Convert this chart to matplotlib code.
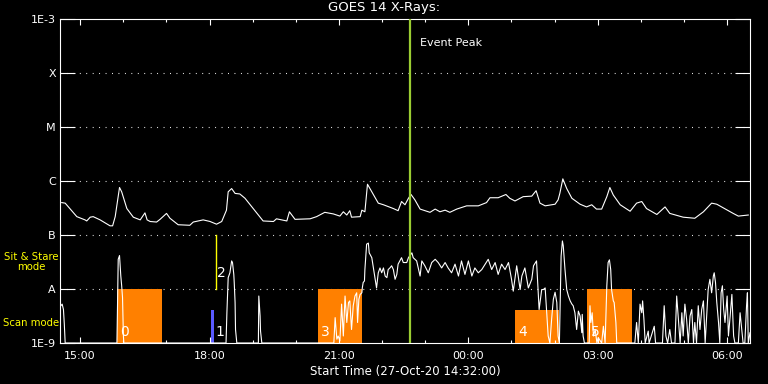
import numpy as np
import matplotlib
matplotlib.use("Agg")
import matplotlib.pyplot as plt
from matplotlib.ticker import FixedLocator, NullLocator

# time in hours after start (27-Oct-20 14:32), flux as log10(W/m^2)
goes_t = [0.04, 0.12, 0.39, 0.58, 0.62, 0.70, 0.77, 0.93, 1.16, 1.22, 1.28, 1.38, 1.43,
          1.55, 1.70, 1.86, 1.97, 2.02, 2.09, 2.24, 2.32, 2.47, 2.55, 2.74, 3.01, 3.09,
          3.32, 3.48, 3.63, 3.75, 3.86, 3.90, 3.98, 4.06, 4.17, 4.29, 4.41, 4.71, 4.95,
          5.02, 5.26, 5.32, 5.45, 5.80, 5.95, 6.14, 6.34, 6.49, 6.57, 6.65, 6.72, 6.76,
          6.96, 7.00, 7.07, 7.13, 7.23, 7.38, 7.50, 7.73, 7.84, 7.92, 8.00, 8.08, 8.14,
          8.23, 8.35, 8.58, 8.70, 8.81, 8.93, 9.04, 9.20, 9.43, 9.70, 9.89, 9.97, 10.16,
          10.34, 10.43, 10.55, 10.74, 10.94, 11.04, 11.13, 11.25, 11.48, 11.55, 11.59,
          11.66, 11.75, 11.87, 12.06, 12.21, 12.33, 12.44, 12.56, 12.68, 12.75, 12.83,
          12.99, 13.22, 13.37, 13.49, 13.60, 13.84, 14.03, 14.14, 14.45, 14.72, 14.92,
          15.11, 15.23, 15.61, 15.73, 15.96]
goes_lg = [-6.40, -6.41, -6.66, -6.72, -6.74, -6.67, -6.66, -6.72, -6.83, -6.83, -6.66,
           -6.12, -6.20, -6.51, -6.67, -6.72, -6.59, -6.72, -6.75, -6.76, -6.71, -6.60,
           -6.69, -6.81, -6.82, -6.76, -6.72, -6.75, -6.80, -6.75, -6.54, -6.20, -6.14,
           -6.23, -6.24, -6.32, -6.44, -6.74, -6.75, -6.70, -6.74, -6.57, -6.71, -6.70,
           -6.66, -6.58, -6.61, -6.65, -6.57, -6.63, -6.55, -6.67, -6.66, -6.54, -6.57,
           -6.06, -6.20, -6.41, -6.44, -6.51, -6.55, -6.38, -6.44, -6.32, -6.25, -6.35,
           -6.52, -6.58, -6.52, -6.57, -6.54, -6.58, -6.52, -6.46, -6.46, -6.40, -6.31,
           -6.31, -6.25, -6.32, -6.37, -6.29, -6.28, -6.18, -6.41, -6.46, -6.43, -6.35,
           -6.23, -5.96, -6.14, -6.32, -6.43, -6.48, -6.44, -6.52, -6.52, -6.29, -6.12,
           -6.26, -6.44, -6.56, -6.41, -6.38, -6.51, -6.62, -6.48, -6.60, -6.67, -6.69,
           -6.57, -6.41, -6.43, -6.60, -6.65, -6.63]

obs_t = [0.02, 0.05, 0.08, 0.10, 0.12, 1.32, 1.33, 1.35, 1.38, 1.39, 1.41, 1.43, 1.45,
         1.47, 1.48, 3.85, 3.87, 3.90, 3.94, 3.98, 4.00, 4.03, 4.04, 4.06, 4.07, 4.10,
         4.60, 4.61, 4.64, 4.65, 4.68, 6.35, 6.38, 6.42, 6.45, 6.49, 6.53, 6.57, 6.61,
         6.65, 6.69, 6.72, 6.76, 6.80, 6.84, 6.88, 6.90, 6.93, 6.96, 7.00, 7.01, 7.03,
         7.06, 7.07, 7.11, 7.15, 7.17, 7.23, 7.26, 7.30, 7.34, 7.38, 7.42, 7.46, 7.50,
         7.54, 7.58, 7.61, 7.65, 7.69, 7.73, 7.77, 7.81, 7.84, 7.88, 7.92, 7.96, 8.04,
         8.08, 8.16, 8.19, 8.27, 8.35, 8.39, 8.46, 8.54, 8.62, 8.70, 8.77, 8.85, 8.93,
         9.00, 9.08, 9.16, 9.24, 9.31, 9.39, 9.47, 9.55, 9.62, 9.70, 9.78, 9.86, 9.93,
         10.01, 10.09, 10.16, 10.24, 10.32, 10.40, 10.47, 10.51, 10.59, 10.67, 10.71,
         10.78, 10.86, 10.94, 10.98, 11.05, 11.08, 11.11, 11.17, 11.21, 11.25, 11.29,
         11.32, 11.36, 11.40, 11.44, 11.48, 11.52, 11.55, 11.58, 11.62, 11.65, 11.67,
         11.71, 11.75, 11.79, 11.83, 11.87, 11.90, 11.94, 11.98, 12.02, 12.06, 12.10,
         12.11, 12.13, 12.16, 12.27, 12.29, 12.31, 12.34, 12.37, 12.41, 12.45, 12.48,
         12.56, 12.60, 12.64, 12.68, 12.71, 12.74, 12.77, 12.79, 12.83, 12.85, 12.89,
         12.91, 13.33, 13.37, 13.41, 13.45, 13.49, 13.51, 13.54, 13.57, 13.64, 13.66,
         13.78, 13.81, 13.97, 14.01, 14.05, 14.09, 14.14, 14.18, 14.26, 14.30, 14.34,
         14.38, 14.42, 14.45, 14.49, 14.53, 14.57, 14.61, 14.65, 14.69, 14.72, 14.76,
         14.80, 14.84, 14.88, 14.92, 14.96, 15.00, 15.03, 15.07, 15.11, 15.15, 15.17,
         15.20, 15.23, 15.27, 15.30, 15.33, 15.36, 15.39, 15.42, 15.47, 15.50, 15.54,
         15.58, 15.62, 15.65, 15.73, 15.77, 15.81, 15.84, 15.88, 15.92, 15.94, 15.96,
         16.00]
obs_lg = [-8.31, -8.28, -8.38, -8.65, -9.00, -9.00, -8.46, -7.45, -7.38, -7.51, -7.76,
          -7.94, -8.16, -8.87, -9.00, -9.00, -8.44, -7.79, -7.70, -7.48, -7.51, -7.73,
          -7.88, -8.25, -8.75, -9.00, -9.00, -8.13, -8.50, -8.78, -9.00, -9.00, -8.53,
          -8.93, -8.87, -8.96, -8.28, -8.87, -8.13, -8.62, -8.25, -8.22, -8.75, -8.31,
          -8.13, -8.07, -8.62, -8.19, -8.10, -8.07, -7.98, -7.88, -7.85, -7.64, -7.17,
          -7.15, -7.33, -7.42, -7.57, -7.76, -7.98, -7.70, -7.61, -7.70, -7.61, -7.76,
          -7.79, -7.64, -7.61, -7.57, -7.64, -7.82, -7.73, -7.54, -7.48, -7.42, -7.51,
          -7.51, -7.42, -7.33, -7.42, -7.48, -7.76, -7.48, -7.57, -7.70, -7.51, -7.45,
          -7.51, -7.61, -7.51, -7.61, -7.70, -7.54, -7.76, -7.48, -7.73, -7.48, -7.76,
          -7.61, -7.70, -7.64, -7.54, -7.45, -7.64, -7.51, -7.73, -7.54, -7.64, -7.51,
          -7.82, -8.04, -7.57, -8.01, -7.76, -7.61, -7.98, -7.82, -7.57, -7.48, -7.94,
          -8.38, -8.01, -8.01, -7.98, -8.50, -8.87, -9.00, -8.56, -8.19, -8.06, -8.25,
          -8.87, -9.00, -7.39, -7.11, -7.20, -7.64, -8.01, -8.13, -8.22, -8.28, -8.31,
          -8.44, -8.75, -8.41, -8.50, -8.81, -8.47, -8.87, -9.00, -9.00, -8.31, -8.62,
          -8.44, -8.87, -8.75, -9.00, -8.90, -9.00, -8.69, -9.00, -7.94, -7.51, -7.46,
          -7.64, -8.01, -8.22, -8.25, -8.62, -9.00, -9.00, -8.62, -9.00, -8.28, -8.44,
          -8.22, -8.56, -9.00, -8.78, -9.00, -8.69, -9.00, -9.00, -8.31, -8.87, -9.00,
          -8.75, -9.00, -9.00, -8.13, -8.56, -9.00, -8.44, -8.87, -8.28, -8.56, -9.00,
          -8.50, -8.38, -9.00, -8.62, -9.00, -8.31, -8.75, -8.38, -8.22, -9.00, -8.44,
          -8.01, -7.82, -8.07, -7.76, -7.70, -7.88, -8.25, -8.62, -9.00, -8.07, -7.94,
          -8.38, -8.62, -8.13, -8.87, -8.50, -8.10, -8.87, -9.00, -9.00, -8.44, -8.75,
          -9.00, -9.00, -8.31, -8.07, -9.00, -8.81]

# observation blocks
blk_lbl = ["0", "3", "4", "5"]
blk_t0 = [1.32, 5.98, 10.55, 12.22]
blk_t1 = [2.37, 7.00, 11.57, 13.26]
blk_top = [-8.0, -8.0, -8.39, -8.0]

bar1_t = [3.51, 3.58]
bar1_top = -8.39
line2_t = 3.62
peak_t = 8.12

lvl_vals = [-9, -8, -7, -6, -5, -4, -3]
lvl_lbl = ["1E-9", "A", "B", "C", "M", "X", "1E-3"]
xtick_t = [0.4667, 3.4667, 6.4667, 9.4667, 12.4667, 15.4667]
xtick_lbl = ["15:00", "18:00", "21:00", "00:00", "03:00", "06:00"]

fig = plt.figure(figsize=(7.68, 3.84), dpi=100, facecolor="black")
ax = fig.add_axes([60 / 768, 41 / 384, 690 / 768, 324 / 384], facecolor="black")
ax.set_yscale("log")
ax.set_xlim(0, 16)
ax.set_ylim(1e-9, 1e-3)

for t0, t1, top, lbl in zip(blk_t0, blk_t1, blk_top, blk_lbl):
    ax.fill_between([t0, t1], 1e-9, 10 ** top, color="#ff8000", lw=0, zorder=1)
    ax.text(t0 + 0.08, 10 ** -8.8, lbl, color="white", fontsize=10, va="center", zorder=4)

ax.fill_between(bar1_t, 1e-9, 10 ** bar1_top, color="#5a5aff", lw=0, zorder=1)
ax.text(bar1_t[1] + 0.02, 10 ** -8.8, "1", color="white", fontsize=10, va="center", zorder=4)
ax.plot([line2_t, line2_t], [1e-8, 1e-7], color="yellow", lw=1, zorder=2)
ax.text(line2_t + 0.03, 10 ** -7.7, "2", color="white", fontsize=10, va="center", zorder=4)

ax.plot(goes_t, 10 ** np.array(goes_lg), color="white", lw=0.8, zorder=3)
ax.plot(obs_t, 10 ** np.array(obs_lg), color="white", lw=0.8, zorder=3)

ax.axvline(peak_t, color="#9acd32", lw=1.6, zorder=3)
ax.text(peak_t + 0.22, 10 ** -3.44, "Event Peak", color="white", fontsize=8, va="center")

for lv in lvl_vals[1:-1]:
    ax.axhline(10 ** lv, color="white", lw=0.8, dashes=(0.8, 5.0), zorder=0)

ax.yaxis.set_major_locator(FixedLocator([10 ** v for v in lvl_vals]))
ax.yaxis.set_minor_locator(NullLocator())
ax.set_yticklabels(lvl_lbl)
ax.xaxis.set_major_locator(FixedLocator(xtick_t))
ax.xaxis.set_minor_locator(FixedLocator(np.arange(0.4667, 16, 1.0)))
ax.set_xticklabels(xtick_lbl)

ax.tick_params(axis="y", which="major", direction="in", length=10.5, width=0.8,
               colors="white", left=True, right=True, labelsize=8, pad=3)
ax.tick_params(axis="x", which="major", direction="in", length=4.3, width=0.8,
               colors="white", top=True, bottom=True, labelsize=8, pad=6)
ax.tick_params(axis="x", which="minor", direction="in", length=2.5, width=0.8,
               colors="white", top=True, bottom=True)
for sp in ax.spines.values():
    sp.set_color("white")
    sp.set_linewidth(0.8)

ax.set_xlabel("Start Time (27-Oct-20 14:32:00)", color="white", fontsize=8.5, labelpad=3)
fig.text(0.5, 1 - 8 / 384, "GOES 14 X-Rays:", color="white", fontsize=9.5,
         ha="center", va="center")

ax.text(-0.042, 10 ** -7.5, "Sit & Stare\nmode", color="yellow", fontsize=7.3,
        ha="center", va="center", transform=ax.get_yaxis_transform(), linespacing=1.05)
ax.text(-0.042, 10 ** -8.63, "Scan mode", color="yellow", fontsize=7.3,
        ha="center", va="center", transform=ax.get_yaxis_transform())

fig.savefig("out.png", dpi=100, facecolor="black")
